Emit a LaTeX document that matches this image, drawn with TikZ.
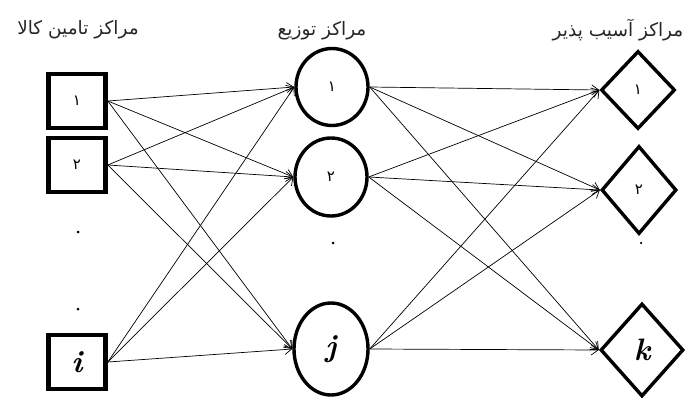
\documentclass[tikz,border=0pt]{standalone}
\usepackage{fontspec}
\usetikzlibrary{shapes.geometric,arrows.meta}
\newfontfamily\arabicfont[Script=Arabic]{DejaVu Sans}
\TeXXeTstate=1
\begin{document}
\begin{tikzpicture}[x=1pt,y=-1pt,
  srcbox/.style={draw,line width=4.6pt,rectangle,inner sep=0pt,minimum width=57pt,minimum height=54pt},
  hub/.style={draw,line width=3.4pt,ellipse,inner sep=0pt},
  dem/.style={draw,line width=3.4pt,diamond,inner sep=0pt},
  lab/.style={font=\arabicfont\fontsize{15}{17}\selectfont},
  var/.style={font=\fontsize{31}{33}\selectfont\bfseries\itshape},
  title/.style={font=\arabicfont\fontsize{18.5}{20}\selectfont,text=black!85},
  dotn/.style={circle,fill=black,inner sep=0pt,minimum size=3pt},
  edge/.style={line width=0.7pt,-{Straight Barb[length=7pt,width=10pt]}}]
\useasboundingbox (0,0) rectangle (687,398);
% titles
\node[title] (t1) at (78,30) {\beginR مراکز تامین کالا\endR};
\node[title] (t2) at (322,31) {\beginR مراکز توزیع\endR};
\node[title] (t3) at (618,30) {\beginR مراکز آسیب پذیر\endR};
% sources
\node[srcbox,lab] (s1) at (77,101) {\beginR ۱\endR};
\node[srcbox,lab] (s2) at (77,165) {\beginR ۲\endR};
\node[srcbox,var] (si) at (77,362) {i};
\node[dotn] (d1) at (78,232) {};
\node[dotn] (d2) at (78,309) {};
% hubs
\node[hub,lab,minimum width=72pt,minimum height=77pt] (h1) at (332,87) {\beginR ۱\endR};
\node[hub,lab,minimum width=72pt,minimum height=78pt] (h2) at (331,177) {\beginR ۲\endR};
\node[hub,var,minimum width=74pt,minimum height=92pt] (hj) at (331,349) {j};
\node[dotn] (d3) at (333,243) {};
% demand
\node[dem,lab,minimum width=74pt,minimum height=78pt] (k1) at (638,90) {\beginR ۱\endR};
\node[dem,lab,minimum width=75pt,minimum height=88pt] (k2) at (639,190) {\beginR ۲\endR};
\node[dem,var,minimum width=83pt,minimum height=93pt] (kk) at (642,350) {k};
\node[dotn,minimum size=2.5pt] (d4) at (641,243) {};
% edges
\foreach \s in {s1,s2,si}{
  \foreach \h in {h1,h2,hj}{
    \draw[edge] (\s.east) -- (\h.west);
  }
}
\foreach \h in {h1,h2,hj}{
  \foreach \k in {k1,k2,kk}{
    \draw[edge] (\h.east) -- (\k.west);
  }
}
\end{tikzpicture}
\end{document}
